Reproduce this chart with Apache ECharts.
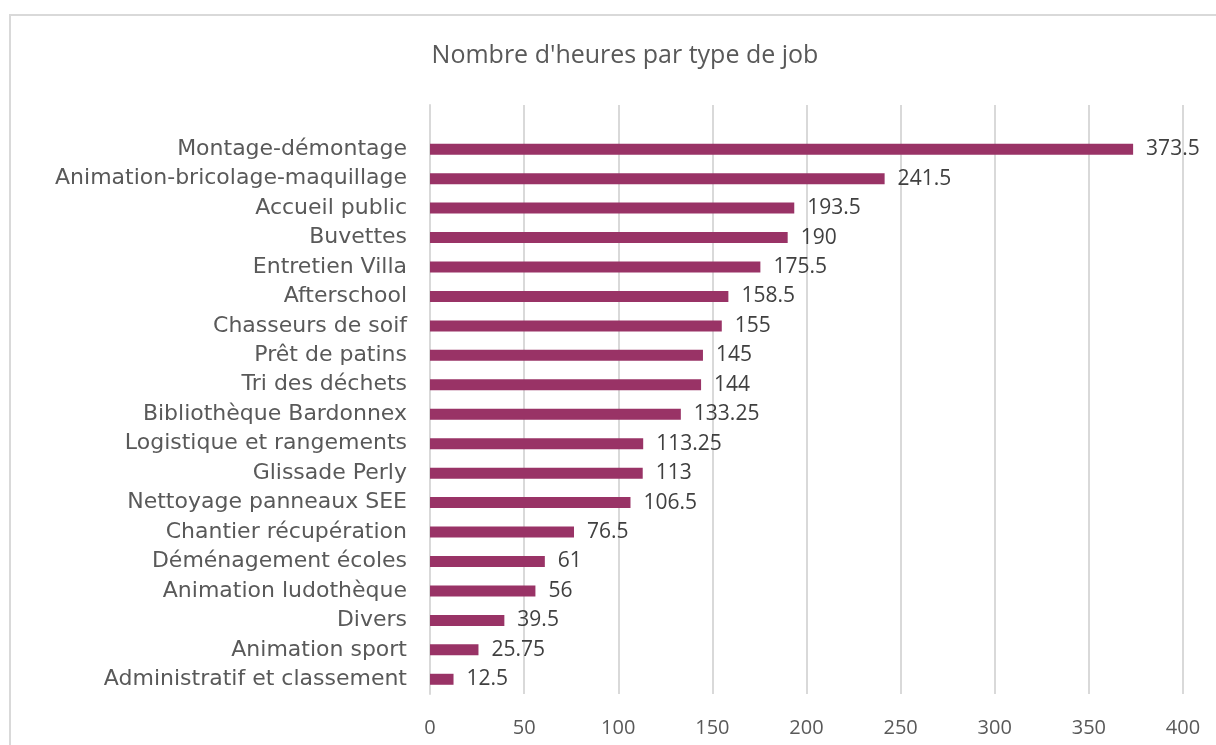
<!DOCTYPE html>
<html><head><meta charset="utf-8">
<script src="https://cdn.jsdelivr.net/npm/echarts@6/dist/echarts.min.js"></script>
<style>html,body{margin:0;padding:0;background:#fff}#c{width:1216px;height:745px}</style>
</head><body><div id="c"></div>
<script>
const categories = ["Administratif et classement","Animation sport","Divers","Animation ludothèque","Déménagement écoles","Chantier récupération","Nettoyage panneaux SEE","Glissade Perly","Logistique et rangements","Bibliothèque Bardonnex","Tri des déchets","Prêt de patins","Chasseurs de soif","Afterschool","Entretien Villa","Buvettes","Accueil public","Animation-bricolage-maquillage","Montage-démontage"];
const hours = [12.5,25.75,39.5,56,61,76.5,106.5,113,113.25,133.25,144,145,155,158.5,175.5,190,193.5,241.5,373.5];
const xTicks = [0,50,100,150,200,250,300,350,400];

const chart = echarts.init(document.getElementById('c'));
chart.setOption({
  backgroundColor:'#fff',
  animation:false,
  graphic:[{type:'rect',shape:{x:10,y:15,width:1300,height:800},style:{fill:'none',stroke:'#d9d9d9',lineWidth:2},silent:true}],
  title:{text:"Nombre d'heures par type de job",left:620,top:38,textAlign:'center',
    textStyle:{fontFamily:'Open Sans',fontWeight:'normal',fontSize:25,color:'#595959'}},
  grid:{left:430,right:33,top:105,bottom:51,containLabel:false},
  xAxis:{type:'value',min:xTicks[0],max:xTicks[xTicks.length-1],interval:50,
    axisLine:{show:false},axisTick:{show:false},
    splitLine:{show:true,lineStyle:{color:'#d9d9d9',width:2}},
    axisLabel:{margin:24,fontFamily:'Open Sans',fontSize:20,color:'#595959'}},
  yAxis:{type:'category',data:categories,max:categories.length,
    axisLine:{show:true,lineStyle:{color:'#d9d9d9',width:2}},axisTick:{show:false},
    axisLabel:{margin:23,fontFamily:'DejaVu Sans',fontSize:22,color:'#595959',
      formatter:function(v){return v==null?'':v;}}},
  series:[{type:'bar',data:hours,barWidth:11,
    itemStyle:{color:'#993366'},
    label:{show:true,position:'right',distance:13,fontFamily:'Open Sans',fontSize:21,color:'#404040'}}]
});
</script></body></html>
